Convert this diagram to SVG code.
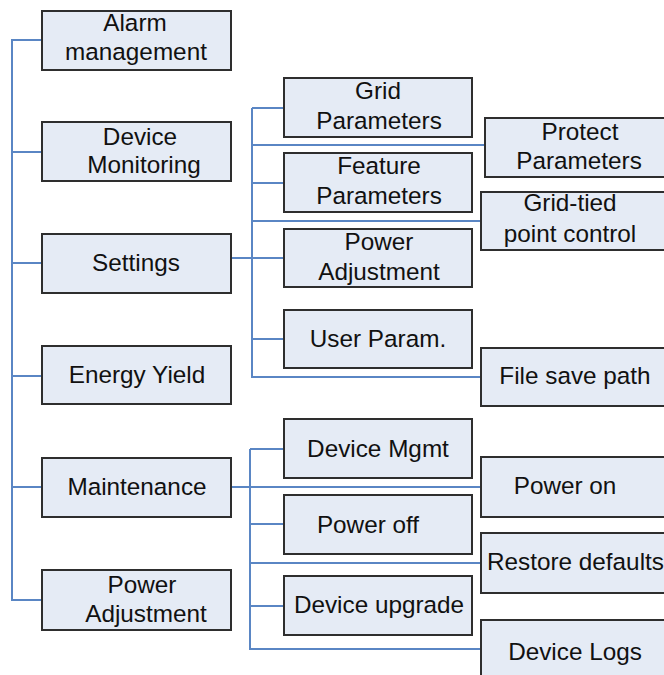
<svg xmlns="http://www.w3.org/2000/svg" width="664" height="675" viewBox="0 0 664 675">
<style>
.box{fill:#E5EBF5;stroke:#2E2E2E;stroke-width:2}
.t{font-family:"Liberation Sans",Arial,sans-serif;font-size:24.3px;fill:#111;text-anchor:middle}
.c{fill:none;stroke:#5A86C4;stroke-width:2}
</style>
<rect width="664" height="675" fill="#FFFFFF"/>
<g id="connectors">
<path class="c" d="M42 40H12V600H42M12 152H42M12 263H42M12 376H42M12 487H42"/>
<path class="c" d="M231 258H284M252 108V377H481M252 108H284M252 145H485M252 183H284M252 221H481M252 339H284"/>
<path class="c" d="M231 487H481M250 449V649H481M250 449H284M250 524H284M250 563H481M250 606H284"/>
</g>
<g id="alarm"><rect class="box" x="42" y="11" width="189" height="59"/><text class="t" x="135" y="31">Alarm</text><text class="t" x="136" y="60">management</text></g>
<g id="monitoring"><rect class="box" x="42" y="122" width="189" height="59"/><text class="t" x="140" y="145">Device</text><text class="t" x="144" y="173">Monitoring</text></g>
<g id="settings"><rect class="box" x="42" y="234" width="189" height="59"/><text class="t" x="136" y="271">Settings</text></g>
<g id="energy"><rect class="box" x="42" y="346" width="189" height="58"/><text class="t" x="137" y="383">Energy Yield</text></g>
<g id="maintenance"><rect class="box" x="42" y="458" width="189" height="59"/><text class="t" x="137" y="495">Maintenance</text></g>
<g id="poweradj"><rect class="box" x="42" y="570" width="189" height="60"/><text class="t" x="142" y="593">Power</text><text class="t" x="146" y="622">Adjustment</text></g>
<g id="grid"><rect class="box" x="284" y="78" width="188" height="59"/><text class="t" x="378" y="99">Grid</text><text class="t" x="379" y="129">Parameters</text></g>
<g id="feature"><rect class="box" x="284" y="153" width="188" height="59"/><text class="t" x="379" y="174">Feature</text><text class="t" x="379" y="204">Parameters</text></g>
<g id="poweradj2"><rect class="box" x="284" y="229" width="188" height="58"/><text class="t" x="379" y="250">Power</text><text class="t" x="379" y="280">Adjustment</text></g>
<g id="userparam"><rect class="box" x="284" y="310" width="188" height="58"/><text class="t" x="378" y="347">User Param.</text></g>
<g id="protect"><rect class="box" x="485" y="118" width="200" height="59"/><text class="t" x="580" y="140">Protect</text><text class="t" x="579" y="169">Parameters</text></g>
<g id="gridtied"><rect class="box" x="481" y="192" width="200" height="58"/><text class="t" x="570" y="211">Grid-tied</text><text class="t" x="570" y="242">point control</text></g>
<g id="filesave"><rect class="box" x="481" y="348" width="200" height="58"/><text class="t" x="575" y="384">File save path</text></g>
<g id="devmgmt"><rect class="box" x="284" y="419" width="188" height="59"/><text class="t" x="378" y="457">Device Mgmt</text></g>
<g id="poweroff"><rect class="box" x="284" y="495" width="188" height="59"/><text class="t" x="368" y="533">Power off</text></g>
<g id="upgrade"><rect class="box" x="284" y="576" width="188" height="59"/><text class="t" x="379" y="613">Device upgrade</text></g>
<g id="poweron"><rect class="box" x="481" y="457" width="200" height="60"/><text class="t" x="565" y="494">Power on</text></g>
<g id="restore"><rect class="box" x="481" y="533" width="200" height="60"/><text class="t" x="487" y="570" style="text-anchor:start">Restore defaults</text></g>
<g id="logs"><rect class="box" x="481" y="620" width="200" height="70"/><text class="t" x="575" y="660">Device Logs</text></g>
</svg>
